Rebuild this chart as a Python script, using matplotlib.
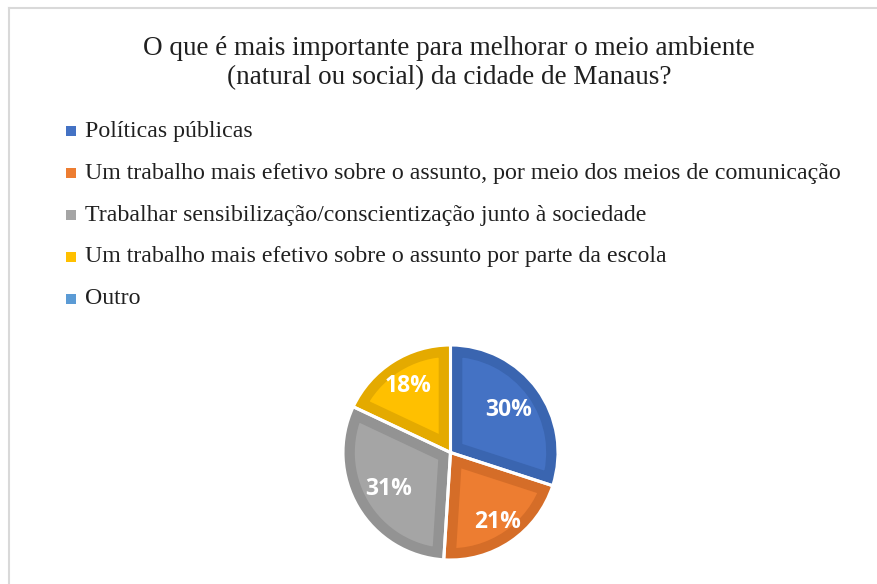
import matplotlib
matplotlib.use("Agg")
import numpy as np
import matplotlib.pyplot as plt
from matplotlib.patches import Rectangle, Wedge
from matplotlib.lines import Line2D

title = "O que é mais importante para melhorar o meio ambiente\n(natural ou social) da cidade de Manaus?"
categories = [
    "Políticas públicas",
    "Um trabalho mais efetivo sobre o assunto, por meio dos meios de comunicação",
    "Trabalhar sensibilização/conscientização junto à sociedade",
    "Um trabalho mais efetivo sobre o assunto por parte da escola",
    "Outro",
]
values = [30, 21, 31, 18, 0]
colors = ["#4472C4", "#ED7D31", "#A5A5A5", "#FFC000", "#5B9BD5"]
edge_colors = ["#3A65B0", "#D56D28", "#939393", "#E4AA00", "#5089BD"]

W, H = 877, 584
fig = plt.figure(figsize=(W / 100, H / 100), dpi=100)
fig.patch.set_facecolor("white")

# frame
fig.add_artist(Line2D([9 / W, 9 / W], [0, 1 - 8 / H], color="#D9D9D9", lw=1.5))
fig.add_artist(Line2D([9 / W, 1], [1 - 8 / H, 1 - 8 / H], color="#D9D9D9", lw=1.5))

serif = ["Liberation Serif", "DejaVu Serif"]
fig.text(449 / W, 1 - 63 / H, title, ha="center", va="center", fontsize=19.5,
         family=serif, color="#202020", linespacing=1.2)

# legend
ys = [131, 173, 215, 257, 299]
for y, lab, c in zip(ys, categories, colors):
    fig.add_artist(Rectangle((66 / W, 1 - (y + 5) / H), 10 / W, 10 / H,
                             transform=fig.transFigure, facecolor=c, edgecolor="none"))
    fig.text(85 / W, 1 - y / H, lab, ha="left", va="center", fontsize=17.2,
             family=serif, color="#202020")

# pie (zero-valued categories only appear in the legend)
pv = [v for v in values if v > 0]
pc = [c for v, c in zip(values, colors) if v > 0]
pe = [c for v, c in zip(values, edge_colors) if v > 0]
label_dist = [0.67, 0.78, 0.67, 0.73]

cx, cy, r = 450.5, 452.5, 107.5
ax = fig.add_axes([(cx - r) / W, 1 - (cy + r) / H, 2 * r / W, 2 * r / H])
wedges, texts, autotexts = ax.pie(pv, colors=pc, startangle=90, counterclock=False,
                                  radius=1, autopct=lambda p: f"{p:.0f}%",
                                  pctdistance=0.67,
                                  textprops=dict(color="white", fontsize=16.5, fontweight="bold",
                                                 family=["Open Sans", "DejaVu Sans"]))
ax.set_xlim(-1, 1)
ax.set_ylim(-1, 1)
ax.axis("off")
for w, ec, t, d in zip(wedges, pe, autotexts, label_dist):
    w.set_zorder(1)
    border = Wedge(w.center, w.r, w.theta1, w.theta2, facecolor="none",
                   edgecolor=ec, linewidth=17, zorder=1.5)
    ax.add_patch(border)
    border.set_clip_path(border.get_path(), ax.transData)
    outline = Wedge(w.center, w.r, w.theta1, w.theta2, facecolor="none",
                    edgecolor="white", linewidth=2.2, zorder=2)
    ax.add_patch(outline)
    mid = np.deg2rad((w.theta1 + w.theta2) / 2)
    t.set_position((d * np.cos(mid), d * np.sin(mid)))
    t.set_zorder(3)

fig.savefig("out.png", dpi=100, facecolor="white")
